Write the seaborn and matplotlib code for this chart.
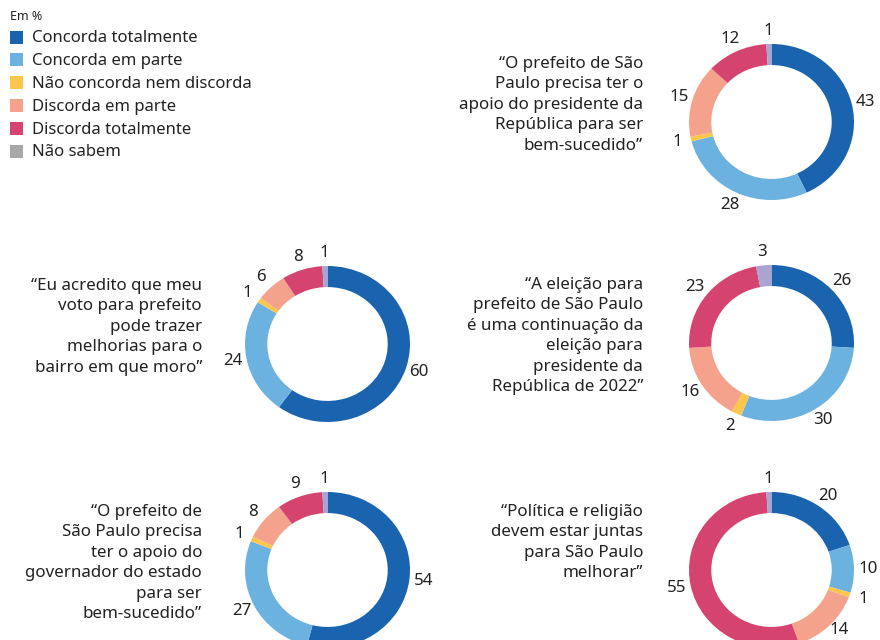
import matplotlib
matplotlib.use("Agg")
import matplotlib.pyplot as plt
import seaborn as sns
import numpy as np
from matplotlib.patches import Rectangle

sns.set_theme(style="white")
plt.rcParams['font.family'] = ['Noto Sans', 'DejaVu Sans']

# ---- data ----
categories = ["Concorda totalmente", "Concorda em parte", "Não concorda nem discorda",
              "Discorda em parte", "Discorda totalmente", "Não sabem"]
legend_colors = ["#1a63ae", "#6cb2e1", "#fcc64c", "#f5a28c", "#d5446f", "#a8a8a8"]
slice_colors = ["#1a63ae", "#6cb2e1", "#fcc64c", "#f5a28c", "#d5446f", "#a9a4d2"]

quote_1 = "“O prefeito de São\nPaulo precisa ter o\napoio do presidente da\nRepública para ser\nbem-sucedido”"
quote_2 = "“Eu acredito que meu\nvoto para prefeito\npode trazer\nmelhorias para o\nbairro em que moro”"
quote_3 = "“A eleição para\nprefeito de São Paulo\né uma continuação da\neleição para\npresidente da\nRepública de 2022”"
quote_4 = "“O prefeito de\nSão Paulo precisa\nter o apoio do\ngovernador do estado\npara ser\nbem-sucedido”"
quote_5 = "“Política e religião\ndevem estar juntas\npara São Paulo\nmelhorar”"

values_1 = [43, 28, 1, 15, 12, 1]
values_2 = [60, 24, 1, 6, 8, 1]
values_3 = [26, 30, 2, 16, 23, 3]
values_4 = [54, 27, 1, 8, 9, 1]
values_5 = [20, 10, 1, 14, 55, 1]

W, H = 880, 640
fig = plt.figure(figsize=(W / 100, H / 100), dpi=100)
fig.patch.set_facecolor("white")
TXT = "#222222"
FS = 12.2

def fx(x):
    return x / W

def fy(y):
    return 1 - y / H

# legend
fig.text(fx(10), fy(16), "Em %", fontsize=9, fontweight="semibold", color=TXT, va="center", ha="left")
for i, (cat, col) in enumerate(zip(categories, legend_colors)):
    yc = 37 + i * 22.8
    fig.patches.append(Rectangle((fx(10), fy(yc + 6.5)), 13 / W, 13 / H, transform=fig.transFigure,
                                 facecolor=col, edgecolor="none"))
    fig.text(fx(32), fy(yc + 1.5), cat, fontsize=12, color=TXT, va="center", ha="left")

RX, RY = 82.5, 78.0
SPAN = 1.45

def donut(cx, cy, values, quote, text_right):
    w = 2 * SPAN * RX
    h = 2 * SPAN * RY
    ax = fig.add_axes([fx(cx - w / 2), fy(cy + h / 2), w / W, h / H])
    wedges, _ = ax.pie(values, colors=slice_colors, startangle=90, counterclock=False,
                       radius=1.0, wedgeprops=dict(width=0.27, linewidth=0, edgecolor="none"))
    ax.set_aspect("auto")
    ax.set_xlim(-SPAN, SPAN)
    ax.set_ylim(-SPAN, SPAN)
    ax.axis("off")
    for wdg, v in zip(wedges, values):
        th = np.deg2rad((wdg.theta1 + wdg.theta2) / 2)
        r = 1.17
        px = cx + r * np.cos(th) * RX
        py = cy - r * np.sin(th) * RY
        py = min(py, H - 10)
        fig.text(fx(px), fy(py), str(v), ha="center", va="center",
                 fontsize=FS, color=TXT)
    top = cy - RY
    fig.text(fx(text_right), fy(top + 12), quote, ha="right", va="top", multialignment="right",
             fontsize=FS, color=TXT, linespacing=1.37)

donut(771.5, 122, values_1, quote_1, 643)
donut(327.5, 344, values_2, quote_2, 202)
donut(771.5, 343, values_3, quote_3, 643)
donut(327.5, 570, values_4, quote_4, 202)
donut(771.5, 570, values_5, quote_5, 643)

fig.savefig("out.png", dpi=100, facecolor="white")
